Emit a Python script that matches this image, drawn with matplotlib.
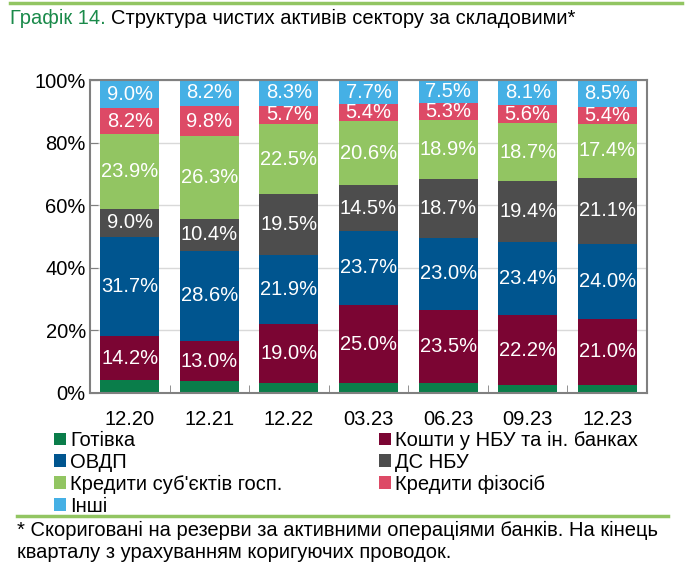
import numpy as np
import matplotlib.pyplot as plt
from matplotlib.lines import Line2D

plt.rcParams['font.family'] = ['Liberation Sans', 'DejaVu Sans']

periods = ['12.20', '12.21', '12.22', '03.23', '06.23', '09.23', '12.23']
cash = [4.0, 3.7, 3.1, 3.1, 3.1, 2.6, 2.6]
nbu_banks = [14.2, 13.0, 19.0, 25.0, 23.5, 22.2, 21.0]
ovdp = [31.7, 28.6, 21.9, 23.7, 23.0, 23.4, 24.0]
ds_nbu = [9.0, 10.4, 19.5, 14.5, 18.7, 19.4, 21.1]
corp_loans = [23.9, 26.3, 22.5, 20.6, 18.9, 18.7, 17.4]
retail_loans = [8.2, 9.8, 5.7, 5.4, 5.3, 5.6, 5.4]
other = [9.0, 8.2, 8.3, 7.7, 7.5, 8.1, 8.5]

series = [
    ('Готівка', cash, '#0a7d4a', False),
    ('Кошти у НБУ та ін. банках', nbu_banks, '#7b0533', True),
    ('ОВДП', ovdp, '#00558f', True),
    ('ДС НБУ', ds_nbu, '#4d4d4d', True),
    ("Кредити суб'єктів госп.", corp_loans, '#92c562', True),
    ('Кредити фізосіб', retail_loans, '#dd4a66', True),
    ('Інші', other, '#45b0e5', True),
]

fig = plt.figure(figsize=(6.92, 5.78), dpi=100)
W, H = 692, 578
ax = fig.add_axes([90 / W, 1 - 393 / H, (647 - 90) / W, (393 - 80) / H])

x = np.arange(len(periods))
bottom = np.zeros(len(periods))
handles = {}
for name, vals, col, show in series:
    vals = np.array(vals)
    bars = ax.bar(x, vals, 0.74, bottom=bottom, color=col, zorder=2)
    handles[name] = bars
    if show:
        for xi, b, v in zip(x, bottom, vals):
            ax.text(xi, b + v / 2, f'{v:.1f}%', ha='center', va='center',
                    color='white', fontsize=14.5, zorder=3)
    bottom += vals

ax.set_xlim(-0.5, len(periods) - 0.5)
ax.set_ylim(0, 100)
ax.set_yticks([0, 20, 40, 60, 80, 100])
ax.set_yticklabels(['0%', '20%', '40%', '60%', '80%', '100%'])
ax.set_xticks(x)
ax.set_xticklabels(periods)
ax.set_xticks(np.arange(0.5, len(periods) - 0.5), minor=True)
ax.tick_params(axis='x', which='major', length=0, pad=12, labelsize=14.5)
ax.tick_params(axis='x', which='minor', direction='in', length=6,
               color='#808080')
ax.tick_params(axis='y', direction='in', length=6, color='#808080',
               labelsize=14.5, pad=3)
ax.grid(axis='y', color='#d9d9d9', lw=1, zorder=0)
for s in ax.spines.values():
    s.set_color('#808080')
    s.set_linewidth(1.5)

order = ['Готівка', 'ОВДП', "Кредити суб'єктів госп.", 'Інші',
         'Кошти у НБУ та ін. банках', 'ДС НБУ', 'Кредити фізосіб']
fig.legend([handles[n] for n in order], order, ncol=2, loc='upper left',
           bbox_to_anchor=(54 / W, 1 - 431 / H), frameon=False, fontsize=14.5,
           handlelength=0.6, handleheight=0.6, handletextpad=0.2,
           labelspacing=0.14, columnspacing=4.8, borderpad=0, borderaxespad=0)

# title: green prefix + black text
t1 = fig.text(10 / W, 1 - 18 / H, 'Графік 14.', color='#1a8a4a',
              fontsize=14.5, va='center', ha='left')
fig.canvas.draw()
bb = t1.get_window_extent(fig.canvas.get_renderer())
fig.text(bb.x1 / W + 5 / W, 1 - 18 / H, 'Структура чистих активів сектору за складовими*',
         color='black', fontsize=14.5, va='center', ha='left')

fig.add_artist(Line2D([10 / W, 682 / W], [1 - 3 / H, 1 - 3 / H],
                      color='#92c562', lw=2.5))
fig.add_artist(Line2D([17 / W, 668 / W], [1 - 516 / H, 1 - 516 / H],
                      color='#92c562', lw=2.5))

fig.text(17 / W, 1 - 530 / H,
         '* Скориговані на резерви за активними операціями банків. На кінець',
         fontsize=14.5, va='center', ha='left')
fig.text(17 / W, 1 - 553 / H,
         'кварталу з урахуванням коригуючих проводок.',
         fontsize=14.5, va='center', ha='left')

fig.savefig('out.png', dpi=100)
